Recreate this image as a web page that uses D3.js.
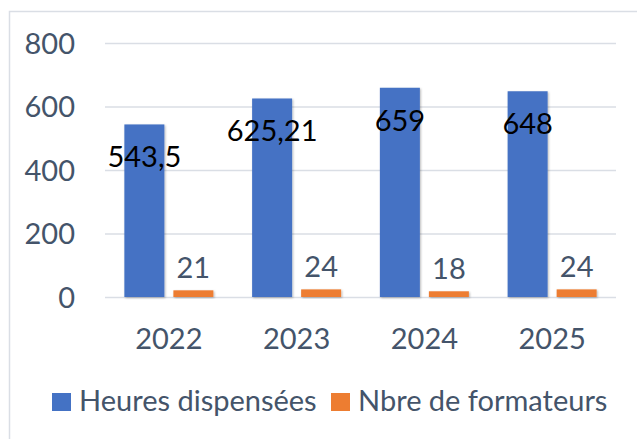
<!DOCTYPE html>
<html>
<head>
<meta charset="utf-8">
<script src="https://cdn.jsdelivr.net/npm/d3@7"></script>
<style>
  html, body { margin: 0; padding: 0; background: #fff; }
  svg { display: block; }
  text { font-family: Lato, "Open Sans", sans-serif; }
</style>
</head>
<body>
<svg id="chart" width="637" height="439"></svg>
<script>
// chart data
const years = ['2022', '2023', '2024', '2025'];
const heures = [543.5, 625.21, 659, 648];
const formateurs = [21, 24, 18, 24];
const heuresLabels = ['543,5', '625,21', '659', '648'];
const seriesNames = ['Heures dispensées', 'Nbre de formateurs'];
const seriesColors = ['#4472C4', '#ED7D31'];
const yTicks = [0, 200, 400, 600, 800];

const TEXT_COLOR = '#44546A';
const GRID_COLOR = '#dadee5';
const FONT_SIZE = 29;

const svg = d3.select('#chart');

// drop shadow under bars
const defs = svg.append('defs');
defs.append('filter')
    .attr('id', 'barShadow')
    .attr('x', '-20%').attr('y', '-20%').attr('width', '140%').attr('height', '140%')
    .append('feDropShadow')
    .attr('dx', 1).attr('dy', 1).attr('stdDeviation', 1.2)
    .attr('flood-color', '#000').attr('flood-opacity', 0.28);

// chart area border (runs off the right and bottom edges)
svg.append('rect')
    .attr('x', 9.5).attr('y', 11.5)
    .attr('width', 700).attr('height', 500)
    .attr('fill', 'none')
    .attr('stroke', GRID_COLOR)
    .attr('stroke-width', 1.5);

const plot = { left: 105, right: 616, top: 43, bottom: 297 };

const x0 = d3.scaleBand()
    .domain(years)
    .range([plot.left, plot.right])
    .paddingInner(0.3033)
    .paddingOuter(0.1516);

const x1 = d3.scaleBand()
    .domain([0, 1])
    .range([0, x0.bandwidth()])
    .paddingInner(0.184);

const y = d3.scaleLinear()
    .domain([0, 800])
    .range([plot.bottom, plot.top]);

// y axis with gridlines
const yAxis = svg.append('g')
    .attr('transform', `translate(${plot.left},0)`)
    .call(d3.axisLeft(y)
        .tickValues(yTicks)
        .tickSizeInner(-(plot.right - plot.left))
        .tickSizeOuter(0)
        .tickPadding(30)
        .tickFormat(d3.format('d')));
yAxis.select('.domain').remove();
yAxis.selectAll('.tick line').attr('stroke', GRID_COLOR).attr('stroke-width', 1.5);
yAxis.selectAll('.tick text')
    .attr('fill', TEXT_COLOR)
    .attr('font-size', FONT_SIZE)
    .attr('dy', '0.36em');

// x axis labels
const xAxis = svg.append('g')
    .attr('transform', `translate(0,${plot.bottom})`)
    .call(d3.axisBottom(x0).tickSize(0).tickPadding(31));
xAxis.select('.domain').remove();
xAxis.selectAll('.tick text')
    .attr('fill', TEXT_COLOR)
    .attr('font-size', FONT_SIZE);

// bars
const groups = svg.append('g')
    .selectAll('g')
    .data(years)
    .join('g')
    .attr('transform', d => `translate(${x0(d)},0)`);

groups.append('rect')
    .attr('x', x1(0))
    .attr('width', x1.bandwidth())
    .attr('y', (d, i) => y(heures[i]))
    .attr('height', (d, i) => y(0) - y(heures[i]))
    .attr('fill', seriesColors[0])
    .attr('filter', 'url(#barShadow)');

groups.append('rect')
    .attr('x', x1(1))
    .attr('width', x1.bandwidth())
    .attr('y', (d, i) => y(formateurs[i]))
    .attr('height', (d, i) => y(0) - y(formateurs[i]))
    .attr('fill', seriesColors[1])
    .attr('filter', 'url(#barShadow)');

// data labels
groups.append('text')
    .attr('x', x1(0) + x1.bandwidth() / 2)
    .attr('y', (d, i) => y(heures[i]) + 43)
    .attr('text-anchor', 'middle')
    .attr('font-size', FONT_SIZE)
    .attr('fill', '#000')
    .text((d, i) => heuresLabels[i]);

groups.append('text')
    .attr('x', x1(1) + x1.bandwidth() / 2)
    .attr('y', (d, i) => y(formateurs[i]) - 12)
    .attr('text-anchor', 'middle')
    .attr('font-size', FONT_SIZE)
    .attr('fill', TEXT_COLOR)
    .text((d, i) => formateurs[i]);

// legend
const legendX = [52, 331];
const legend = svg.append('g')
    .selectAll('g')
    .data(seriesNames)
    .join('g')
    .attr('transform', (d, i) => `translate(${legendX[i]},393)`);

legend.append('rect')
    .attr('width', 19).attr('height', 18)
    .attr('fill', (d, i) => seriesColors[i]);

legend.append('text')
    .attr('x', 27)
    .attr('y', 18)
    .attr('font-size', FONT_SIZE)
    .attr('fill', TEXT_COLOR)
    .text(d => d);
</script>
</body>
</html>
